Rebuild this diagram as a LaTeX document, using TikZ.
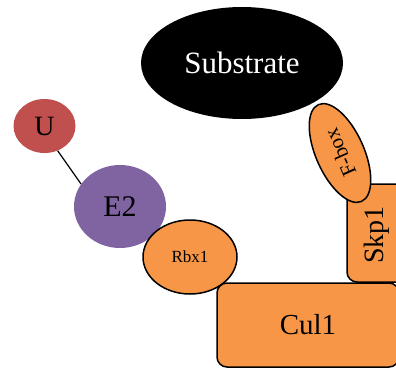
\documentclass[tikz,border=0pt]{standalone}
\usepackage{fontspec}
\setmainfont{Liberation Serif}
\usetikzlibrary{shapes.geometric}
\definecolor{orng}{HTML}{F79646}
\definecolor{ured}{HTML}{C0504D}
\definecolor{epurp}{HTML}{8064A2}
\tikzset{
  prot/.style={ellipse, fill=orng, draw=black, line width=1.5pt, inner sep=0pt},
  box/.style={rectangle, rounded corners=10pt, fill=orng, draw=black, line width=1.5pt, inner sep=0pt},
  fs/.style={font=\fontsize{#1}{#1}\selectfont}
}
\begin{document}
\begin{tikzpicture}[x=1pt,y=-1pt]
\useasboundingbox (0,0) rectangle (396,369);
\clip (0,0) rectangle (396,369);
\node[ellipse, fill=black, inner sep=0pt, minimum width=202pt, minimum height=112pt, text=white, fs=31] (sub) at (242,63) {Substrate};
\node[box, minimum width=60pt, minimum height=98pt] (skp) at (377,233) {};
\node[fs=28, rotate=90] (skptxt) at (377,235) {Skp1};
\node[prot, rotate=114, minimum width=106pt, minimum height=48pt, fs=21] (fbox) at (340,153) {F-box};
\node[ellipse, fill=ured, inner sep=0pt, minimum width=62pt, minimum height=54pt, fs=28] (U) at (44.5,126) {U};
\node[ellipse, fill=epurp, inner sep=0pt, minimum width=92pt, minimum height=83pt, fs=30] (E2) at (120,206.5) {E2};
\draw[line width=1.2pt] (U.-62) -- (E2.150);
\node[prot, minimum width=94pt, minimum height=74pt, fs=17] (rbx) at (190,257) {Rbx1};
\node[box, minimum width=182pt, minimum height=84pt, fs=29] (cul) at (308,325) {Cul1};
\end{tikzpicture}
\end{document}
